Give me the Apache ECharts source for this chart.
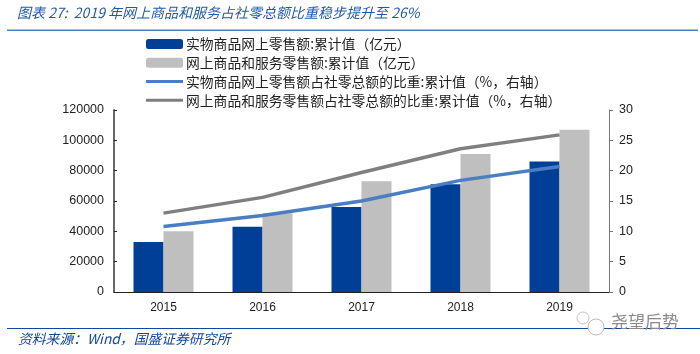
<!DOCTYPE html>
<html><head><meta charset="utf-8">
<script src="https://cdn.jsdelivr.net/npm/echarts@6/dist/echarts.min.js"></script>
<style>html,body{margin:0;padding:0;background:#fff}#c{width:700px;height:354px}</style>
</head><body><div id="c"></div>
<script>
const years = ['2015','2016','2017','2018','2019'];
const goodsSales = [33000,43000,56000,71000,86000];
const totalSales = [40000,52000,73000,91000,107000];
const goodsShare = [10.8,12.6,15.0,18.4,20.7];
const totalShare = [13.0,15.6,19.7,23.6,25.9];
const names = ['实物商品网上零售额:累计值（亿元）','网上商品和服务零售额:累计值（亿元）','实物商品网上零售额占社零总额的比重:累计值（%，右轴）','网上商品和服务零售额占社零总额的比重:累计值（%，右轴）'];
const titleText = '图表 27:  2019 年网上商品和服务占社零总额比重稳步提升至 26%';
const sourceText = '资料来源：Wind，国盛证券研究所';
const watermark = '尧望后势';
const cjk = '"Noto Sans CJK SC"';
const lineIcon = 'path://M0 0H37V0H0Z M0 3.5H37V6.5H0Z M0 10H37V10H0Z';
const chart = echarts.init(document.getElementById('c'));
chart.setOption({
  animation:false,
  backgroundColor:'#fff',
  title:[
   {text:titleText,left:12,top:1,textStyle:{fontFamily:cjk,fontSize:14,fontStyle:'italic',fontWeight:'normal',color:'#1f5aa6'}},
   {text:sourceText,left:13,top:327,textStyle:{fontFamily:cjk,fontSize:13.8,fontStyle:'italic',fontWeight:'normal',color:'#0f46a0'}}
  ],
  legend:{orient:'vertical',left:141,top:32,itemWidth:37,itemHeight:10,itemGap:5,
    textStyle:{fontFamily:cjk,fontSize:13.8,color:'#222',padding:[0,0,0,-2],lineHeight:13},
    data:[{name:names[0]},{name:names[1]},{name:names[2],icon:lineIcon},{name:names[3],icon:lineIcon}]},
  grid:{left:114,right:91,top:110,bottom:62},
  xAxis:{type:'category',data:years,
    axisLine:{lineStyle:{color:'#222',width:1}},
    axisTick:{inside:true,length:4,lineStyle:{color:'#222'}},
    axisLabel:{fontFamily:'Liberation Sans',fontSize:12,color:'#222',margin:10}},
  yAxis:[
   {type:'value',min:0,max:120000,interval:20000,splitLine:{show:false},
    axisLine:{show:true,lineStyle:{color:'#666',width:2}},
    axisTick:{show:true,inside:true,length:3,lineStyle:{color:'#222'}},
    axisLabel:{fontFamily:'Liberation Sans',fontSize:12.5,color:'#222',margin:10,formatter:v=>String(v)}},
   {type:'value',min:0,max:30,interval:5,splitLine:{show:false},position:'right',
    axisLine:{show:true,lineStyle:{color:'#777',width:1}},
    axisTick:{show:true,length:4,lineStyle:{color:'#777'}},
    axisLabel:{fontFamily:'Liberation Sans',fontSize:12.5,color:'#222',margin:10}}
  ],
  series:[
   {name:names[0],type:'bar',data:goodsSales,barWidth:30,barGap:'0%',itemStyle:{color:'#003f98'}},
   {name:names[1],type:'bar',data:totalSales,barWidth:30,barGap:'0%',itemStyle:{color:'#bfbfbf'}},
   {name:names[2],type:'line',yAxisIndex:1,data:goodsShare,symbol:'none',itemStyle:{color:'#4a7ec2'},lineStyle:{color:'#4a7ec2',width:3.5}},
   {name:names[3],type:'line',yAxisIndex:1,data:totalShare,symbol:'none',itemStyle:{color:'#7f7f7f'},lineStyle:{color:'#7f7f7f',width:3.5}}
  ],
  graphic:[
   {type:'rect',shape:{x:7,y:29.5,width:691,height:1.5},style:{fill:'#4a7ec2'},silent:true},
   {type:'rect',shape:{x:7,y:328,width:693,height:1},style:{fill:'#0f46a0'},silent:true},
   {type:'circle',shape:{cx:583,cy:318,r:6},style:{fill:'#fff',stroke:'#c4c4c4',lineWidth:1},silent:true},
   {type:'circle',shape:{cx:596,cy:327,r:8},style:{fill:'#fff',stroke:'#bdbdbd',lineWidth:1},silent:true},
   {type:'text',x:611,y:313,style:{text:watermark,fontFamily:cjk,fontSize:17,fill:'#8a8a8a'},silent:true}
  ]
});
</script></body></html>
